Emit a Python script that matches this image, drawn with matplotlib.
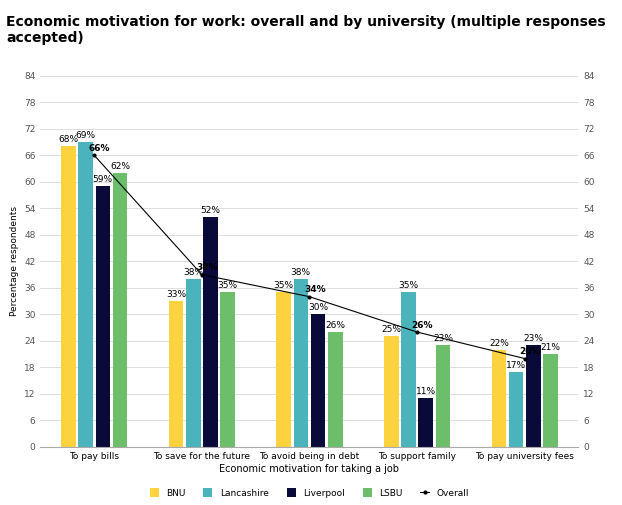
import numpy as np
import matplotlib.pyplot as plt

categories = ['To pay bills', 'To save for the future', 'To avoid being in debt',
              'To support family', 'To pay university fees']
bnu = [68, 33, 35, 25, 22]
lancashire = [69, 38, 38, 35, 17]
liverpool = [59, 52, 30, 11, 23]
lsbu = [62, 35, 26, 23, 21]
overall = [66, 39, 34, 26, 20]

series = [('BNU', bnu, '#FDD23F'), ('Lancashire', lancashire, '#4BB3BC'),
          ('Liverpool', liverpool, '#0A0A3A'), ('LSBU', lsbu, '#6DBE6A')]

fig = plt.figure(figsize=(6.22, 5.05), dpi=100)
ax = fig.add_axes([0.065, 0.115, 0.865, 0.735])
x = np.arange(len(categories))
w = 0.16
for i, (name, vals, col) in enumerate(series):
    pos = x + (i - 1.5) * w
    ax.bar(pos, vals, w * 0.85, color=col, label=name, zorder=2)
    for p, v in zip(pos, vals):
        ax.text(p, v + 0.5, f'{v}%', ha='center', va='bottom', fontsize=6.5, zorder=4)
ax.plot(x, overall, color='black', lw=0.8, marker='o', ms=2, label='Overall', zorder=3)
for p, v in zip(x, overall):
    ax.text(p + 0.05, v + 0.5, f'{v}%', ha='center', va='bottom', fontsize=6.5,
            fontweight='bold', zorder=4)

ax.set_ylim(0, 84)
ax.set_yticks(range(0, 85, 6))
ax.set_xlim(-0.5, len(categories) - 0.5)
ax.set_xticks(x)
ax.set_xticklabels(categories, fontsize=6.5)
ax.tick_params(axis='y', labelsize=6.5, colors='#555555', length=0)
ax.tick_params(axis='x', length=0)
ax.grid(axis='y', color='#dddddd', lw=0.7, zorder=0)
for s in ['top', 'right', 'left']:
    ax.spines[s].set_visible(False)
ax.spines['bottom'].set_color('#aaaaaa')
ax2 = ax.twinx()
ax2.set_ylim(0, 84)
ax2.set_yticks(range(0, 85, 6))
ax2.tick_params(axis='y', labelsize=6.5, colors='#555555', length=0)
for s in ['top', 'right', 'left', 'bottom']:
    ax2.spines[s].set_visible(False)
ax.set_ylabel('Percentage respondents', fontsize=6.5)
ax.set_xlabel('Economic motivation for taking a job', fontsize=7, labelpad=2)
handles, labels = ax.get_legend_handles_labels()
order = [1, 2, 3, 4, 0]
ax.legend([handles[i] for i in order], [labels[i] for i in order],
          loc='upper center', bbox_to_anchor=(0.5, -0.09), ncol=5, frameon=False,
          fontsize=6.5, handlelength=1, handleheight=1)
fig.text(0.01, 0.97, 'Economic motivation for work: overall and by university (multiple responses\naccepted)',
         fontsize=10, fontweight='bold', va='top')
fig.savefig('out.png')
